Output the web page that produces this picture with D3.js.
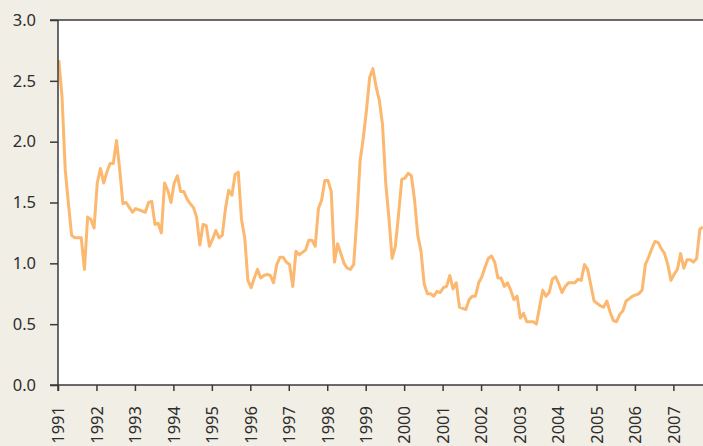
<!DOCTYPE html>
<html>
<head>
<meta charset="utf-8">
<script src="https://cdn.jsdelivr.net/npm/d3@7"></script>
<style>
  html, body { margin: 0; padding: 0; background: #f1eee6; }
  svg { display: block; }
  text { font-family: "Noto Sans", "Open Sans", sans-serif; }
</style>
</head>
<body>
<svg id="chart" width="703" height="446"></svg>
<script>
// ---- data ----
const startYear = 1991;
const yearTicks = [1991,1992,1993,1994,1995,1996,1997,1998,1999,2000,2001,2002,2003,2004,2005,2006,2007];
const yTicks = [0, 0.5, 1.0, 1.5, 2.0, 2.5, 3.0];
// monthly values, Jan 1991 onwards
const values = [
  2.67,2.37,1.77,1.49,1.23,1.21,1.21,1.21,0.95,1.38,1.36,1.29,
  1.66,1.78,1.66,1.75,1.82,1.82,2.01,1.77,1.49,1.50,1.46,1.42,
  1.45,1.44,1.43,1.42,1.50,1.51,1.32,1.33,1.25,1.66,1.60,1.50,
  1.66,1.72,1.59,1.59,1.53,1.49,1.46,1.38,1.15,1.32,1.31,1.14,
  1.20,1.27,1.21,1.23,1.45,1.60,1.56,1.73,1.75,1.36,1.21,0.86,
  0.80,0.88,0.95,0.88,0.90,0.91,0.90,0.84,0.99,1.05,1.05,1.01,
  0.99,0.81,1.10,1.07,1.09,1.11,1.19,1.19,1.14,1.45,1.52,1.68,
  1.68,1.59,1.01,1.16,1.08,1.00,0.96,0.95,0.99,1.37,1.84,2.03,
  2.26,2.53,2.60,2.45,2.34,2.14,1.66,1.37,1.04,1.14,1.40,1.69,
  1.70,1.74,1.72,1.52,1.23,1.10,0.83,0.75,0.75,0.73,0.77,0.76,
  0.80,0.81,0.90,0.79,0.84,0.64,0.63,0.62,0.70,0.73,0.73,0.84,
  0.89,0.97,1.04,1.06,1.01,0.88,0.88,0.81,0.84,0.78,0.70,0.73,
  0.55,0.59,0.52,0.52,0.52,0.50,0.64,0.78,0.73,0.76,0.87,0.89,
  0.83,0.76,0.81,0.84,0.84,0.84,0.87,0.86,0.99,0.95,0.82,0.69,
  0.67,0.65,0.64,0.69,0.60,0.53,0.52,0.58,0.61,0.69,0.71,0.73,
  0.74,0.75,0.78,0.99,1.05,1.12,1.18,1.17,1.12,1.08,0.99,0.86,
  0.91,0.95,1.08,0.96,1.03,1.03,1.01,1.04,1.28,1.30
];
const series = values.map((v, i) => ({ t: startYear + (i + 0.25) / 12, v }));

// ---- layout ----
const W = 703, H = 446;
const m = { left: 58, top: 20, right: 0, bottom: 61 };
const svg = d3.select("#chart");

const x = d3.scaleLinear()
  .domain([1991, 1991 + 16.77])
  .range([m.left, W - m.right]);
const y = d3.scaleLinear()
  .domain([0, 3])
  .range([H - m.bottom, m.top]);

// plot background
svg.append("rect")
  .attr("x", m.left).attr("y", m.top)
  .attr("width", W - m.right - m.left)
  .attr("height", (H - m.bottom) - m.top)
  .attr("fill", "#ffffff");

// line
svg.append("path")
  .datum(series)
  .attr("fill", "none")
  .attr("stroke", "#fbb86e")
  .attr("stroke-width", 3)
  .attr("stroke-linejoin", "round")
  .attr("d", d3.line().x(d => x(d.t)).y(d => y(d.v)));

// y axis
const yAxis = svg.append("g")
  .attr("transform", `translate(${m.left},0)`)
  .call(d3.axisLeft(y).tickValues(yTicks).tickFormat(d3.format(".1f")).tickSize(8).tickPadding(14));
yAxis.select(".domain").remove();
yAxis.selectAll("line").attr("stroke", "#3a3a3a").attr("stroke-width", 1.5);
yAxis.selectAll("text").attr("font-size", 16.5).attr("fill", "#2d2d2d");

// x axis
const xAxis = svg.append("g")
  .attr("transform", `translate(0,${H - m.bottom})`)
  .call(d3.axisBottom(x).tickValues(yearTicks).tickFormat(d3.format("d")).tickSize(6));
xAxis.select(".domain").remove();
xAxis.selectAll("line").attr("stroke", "#3a3a3a").attr("stroke-width", 1.5);
xAxis.selectAll("text")
  .attr("font-size", 16.5).attr("fill", "#2d2d2d")
  .attr("transform", "rotate(-90)")
  .attr("text-anchor", "end")
  .attr("x", -21).attr("y", 0).attr("dy", "0.35em");

// frame lines: left, bottom, top
svg.append("line")
  .attr("x1", m.left).attr("x2", m.left)
  .attr("y1", m.top).attr("y2", H - m.bottom + 6)
  .attr("stroke", "#3a3a3a").attr("stroke-width", 1.5);
svg.append("line")
  .attr("x1", m.left - 8).attr("x2", W)
  .attr("y1", H - m.bottom).attr("y2", H - m.bottom)
  .attr("stroke", "#3a3a3a").attr("stroke-width", 1.5);
svg.append("line")
  .attr("x1", m.left - 8).attr("x2", W)
  .attr("y1", m.top).attr("y2", m.top)
  .attr("stroke", "#3a3a3a").attr("stroke-width", 1.5);
</script>
</body>
</html>
